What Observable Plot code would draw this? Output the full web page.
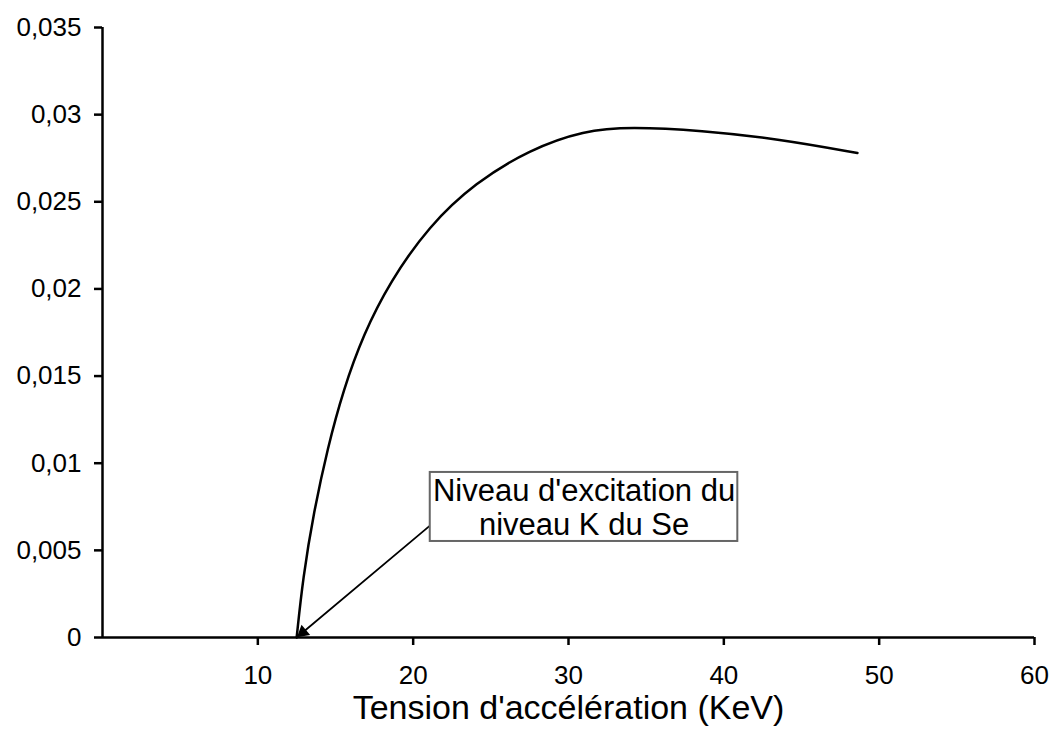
<!DOCTYPE html>
<html>
<head>
<meta charset="utf-8">
<script src="https://cdn.jsdelivr.net/npm/d3@7"></script>
<script src="https://cdn.jsdelivr.net/npm/@observablehq/plot@0.6"></script>
<style>
  body { margin: 0; background: #fff; }
</style>
</head>
<body>
<div id="chart"></div>
<script>
// Curve: K-level excitation of Se vs accelerating voltage
const energy = [12.5, 12.9, 13.6, 14.5, 15.5, 16.8, 18.5, 21.0, 24.0, 27.5, 31.0, 34.0, 38.5, 43.6, 48.6];
const yieldK = [0, 0.0034, 0.0072, 0.0109, 0.0142, 0.0174, 0.0204, 0.0236, 0.0261, 0.0280, 0.0291, 0.0293, 0.0291, 0.0286, 0.0278];

const xTicks = [10, 20, 30, 40, 50, 60];
const yTicks = [0, 0.005, 0.01, 0.015, 0.02, 0.025, 0.03, 0.035];
const xLabel = "Tension d'accélération (KeV)";
const noteLines = ["Niveau d'excitation du", "niveau K du Se"];

// annotation anchors in data space
const noteBox = {x1: 21.1, x2: 40.9, y1: 0.00551, y2: 0.00947};
const noteText = {x: 31.0, y: 0.00749, label: noteLines.join("\n")};
const noteArrow = {x1: 21.1, y1: 0.00643, x2: 12.5, y2: 0};

const data = energy.map((e, i) => ({e, v: yieldK[i]}));
const fr = d3.formatLocale({decimal: ",", thousands: "\u00a0", grouping: [3], currency: ["", " €"]});
const fmt = fr.format("~g");

const FONT = "'Liberation Sans', Arial, Helvetica, sans-serif";

const chart = Plot.plot({
  width: 1050,
  height: 751,
  marginLeft: 102,
  marginRight: 16,
  marginTop: 27,
  marginBottom: 114,
  style: {fontFamily: FONT, fontSize: "26px", color: "#000", background: "#fff"},
  x: {domain: [0, 60]},
  y: {domain: [0, 0.035]},
  marks: [
    Plot.axisX({ticks: xTicks, tickSize: 8, tickPadding: 20, strokeWidth: 2.5, label: null, fontSize: 26, fill: "#000"}),
    Plot.axisY({ticks: yTicks, tickSize: 8, tickPadding: 13, tickFormat: fmt, strokeWidth: 2.5, label: null, fontSize: 26, fill: "#000"}),
    Plot.ruleY([0], {stroke: "#000", strokeWidth: 2.5}),
    Plot.ruleX([0], {stroke: "#000", strokeWidth: 2.5}),
    Plot.line(data, {x: "e", y: "v", curve: "basis", stroke: "#000", strokeWidth: 2.5}),
    Plot.arrow([noteArrow], {x1: "x1", y1: "y1", x2: "x2", y2: "y2", stroke: "#000", strokeWidth: 1.8, headLength: 0, bend: 0}),
    Plot.dot([noteArrow], {x: "x2", y: "y2", symbol: "triangle", r: 5, rotate: 230, dx: 6.2, dy: -5.2, fill: "#000", stroke: "none"}),
    Plot.rect([noteBox], {x1: "x1", x2: "x2", y1: "y1", y2: "y2", fill: "#fff", stroke: "#666", strokeWidth: 2}),
    Plot.text([noteText], {x: "x", y: "y", text: "label", fontSize: 31, lineHeight: 1.1, textAnchor: "middle", lineAnchor: "middle", fill: "#000"}),
    Plot.text([xLabel], {frameAnchor: "bottom", dy: 71, fontSize: 34, lineAnchor: "middle", fill: "#000"})
  ]
});
document.getElementById("chart").appendChild(chart);
</script>
</body>
</html>
